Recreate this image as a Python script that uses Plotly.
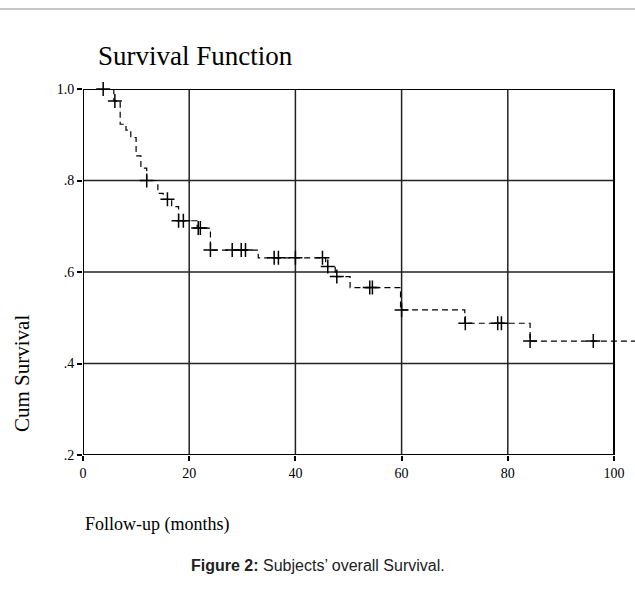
import numpy as np
import plotly.graph_objects as go

# Kaplan-Meier step data (time of drop, survival after drop)
step_times = [0, 5.8, 7.0, 8.1, 9.0, 10.0, 10.9, 12.0, 14.1, 15.1, 16.7, 18.0, 21.5,
              24.0, 33.0, 45.7, 47.5, 50.3, 59.8, 71.9, 84.2, 103.95]
step_surv = [1.0, 0.974, 0.923, 0.910, 0.894, 0.854, 0.827, 0.800, 0.772, 0.759, 0.743,
             0.712, 0.696, 0.648, 0.631, 0.612, 0.590, 0.566, 0.517, 0.488, 0.449, 0.449]

# censored observations (months)
censor_times = [3.8, 6.0, 12.0, 15.9, 18.0, 18.9, 21.7, 22.1, 24.0, 28.1, 29.8, 30.6,
                36.0, 36.8, 40.0, 45.1, 46.1, 47.8, 54.0, 54.5, 60.0, 72.0, 78.1, 78.8,
                84.2, 96.1]

x_ticks = [0, 20, 40, 60, 80, 100]
y_ticks = [0.2, 0.4, 0.6, 0.8, 1.0]
y_ticktext = [".2", ".4", ".6", ".8", "1.0"]

W, H = 635, 589
L, T, B = 83, 89, 134
plot_w = W - L
plot_h = H - T - B


def px_to_paper_x(px):
    return (px - L) / plot_w


def py_to_paper_y(py):
    return (H - B - py) / plot_h


st = np.array(step_times)
ss = np.array(step_surv)
ct = np.array(censor_times)
idx = np.searchsorted(st, ct, side="right") - 1
cs = ss[idx]

fig = go.Figure()
fig.add_trace(go.Scatter(
    x=step_times, y=step_surv, mode="lines", line_shape="hv",
    line=dict(color="black", width=1.2, dash="6px,4px"),
    showlegend=False, hoverinfo="skip"))
fig.add_trace(go.Scatter(
    x=ct, y=cs, mode="markers",
    marker=dict(symbol="cross-thin", size=10, line=dict(color="black", width=1.5)),
    showlegend=False, cliponaxis=False))

shapes = []
gridc = "#222222"
for gx in x_ticks[1:-1]:
    shapes.append(dict(type="line", xref="x", yref="y", x0=gx, x1=gx, y0=0.2, y1=1.0,
                       line=dict(color=gridc, width=1.5), layer="below"))
for gy in y_ticks[1:-1]:
    shapes.append(dict(type="line", xref="x", yref="y", x0=0, x1=100, y0=gy, y1=gy,
                       line=dict(color=gridc, width=1.5), layer="below"))
shapes.append(dict(type="rect", xref="x", yref="y", x0=0, x1=100, y0=0.2, y1=1.0,
                   line=dict(color="black", width=2), layer="below"))
shapes.append(dict(type="line", xref="paper", yref="paper",
                   x0=px_to_paper_x(0), x1=1, y0=py_to_paper_y(9), y1=py_to_paper_y(9),
                   line=dict(color="#b4b4b4", width=1.5)))

serif = "Liberation Serif"
annotations = [
    dict(text="Survival Function", xref="paper", yref="paper",
         x=px_to_paper_x(96), y=py_to_paper_y(56), xanchor="left", yanchor="middle",
         showarrow=False, font=dict(family=serif, size=27, color="black")),
    dict(text="Follow-up (months)", xref="paper", yref="paper",
         x=px_to_paper_x(83), y=py_to_paper_y(524), xanchor="left", yanchor="middle",
         showarrow=False, font=dict(family=serif, size=18, color="black")),
    dict(text="Cum Survival", xref="paper", yref="paper", textangle=-90,
         x=px_to_paper_x(22), y=py_to_paper_y(374), xanchor="center", yanchor="middle",
         showarrow=False, font=dict(family=serif, size=21, color="black")),
    dict(text="<b>Figure 2:</b> Subjects\u2019 overall Survival.", xref="paper", yref="paper",
         x=px_to_paper_x(318), y=py_to_paper_y(565), xanchor="center", yanchor="middle",
         showarrow=False, font=dict(family="Liberation Sans", size=16, color="#222222")),
]

fig.update_layout(
    width=W, height=H,
    margin=dict(l=L, r=0, t=T, b=B, pad=0),
    paper_bgcolor="white", plot_bgcolor="white",
    shapes=shapes, annotations=annotations,
    xaxis=dict(range=[0, (W - L) / ((614 - 83) / 100)], tickvals=x_ticks,
               ticktext=[str(v) for v in x_ticks], showgrid=False, zeroline=False,
               showline=False, ticks="outside", ticklen=5, tickwidth=1.5, tickcolor="black",
               tickfont=dict(family=serif, size=14, color="black")),
    yaxis=dict(range=[0.2, 1.0], tickvals=y_ticks, ticktext=y_ticktext, showgrid=False,
               zeroline=False, showline=False, ticks="outside", ticklen=5, tickwidth=1.5,
               tickcolor="black", tickfont=dict(family=serif, size=14, color="black")),
)

fig.write_html("out.html")
